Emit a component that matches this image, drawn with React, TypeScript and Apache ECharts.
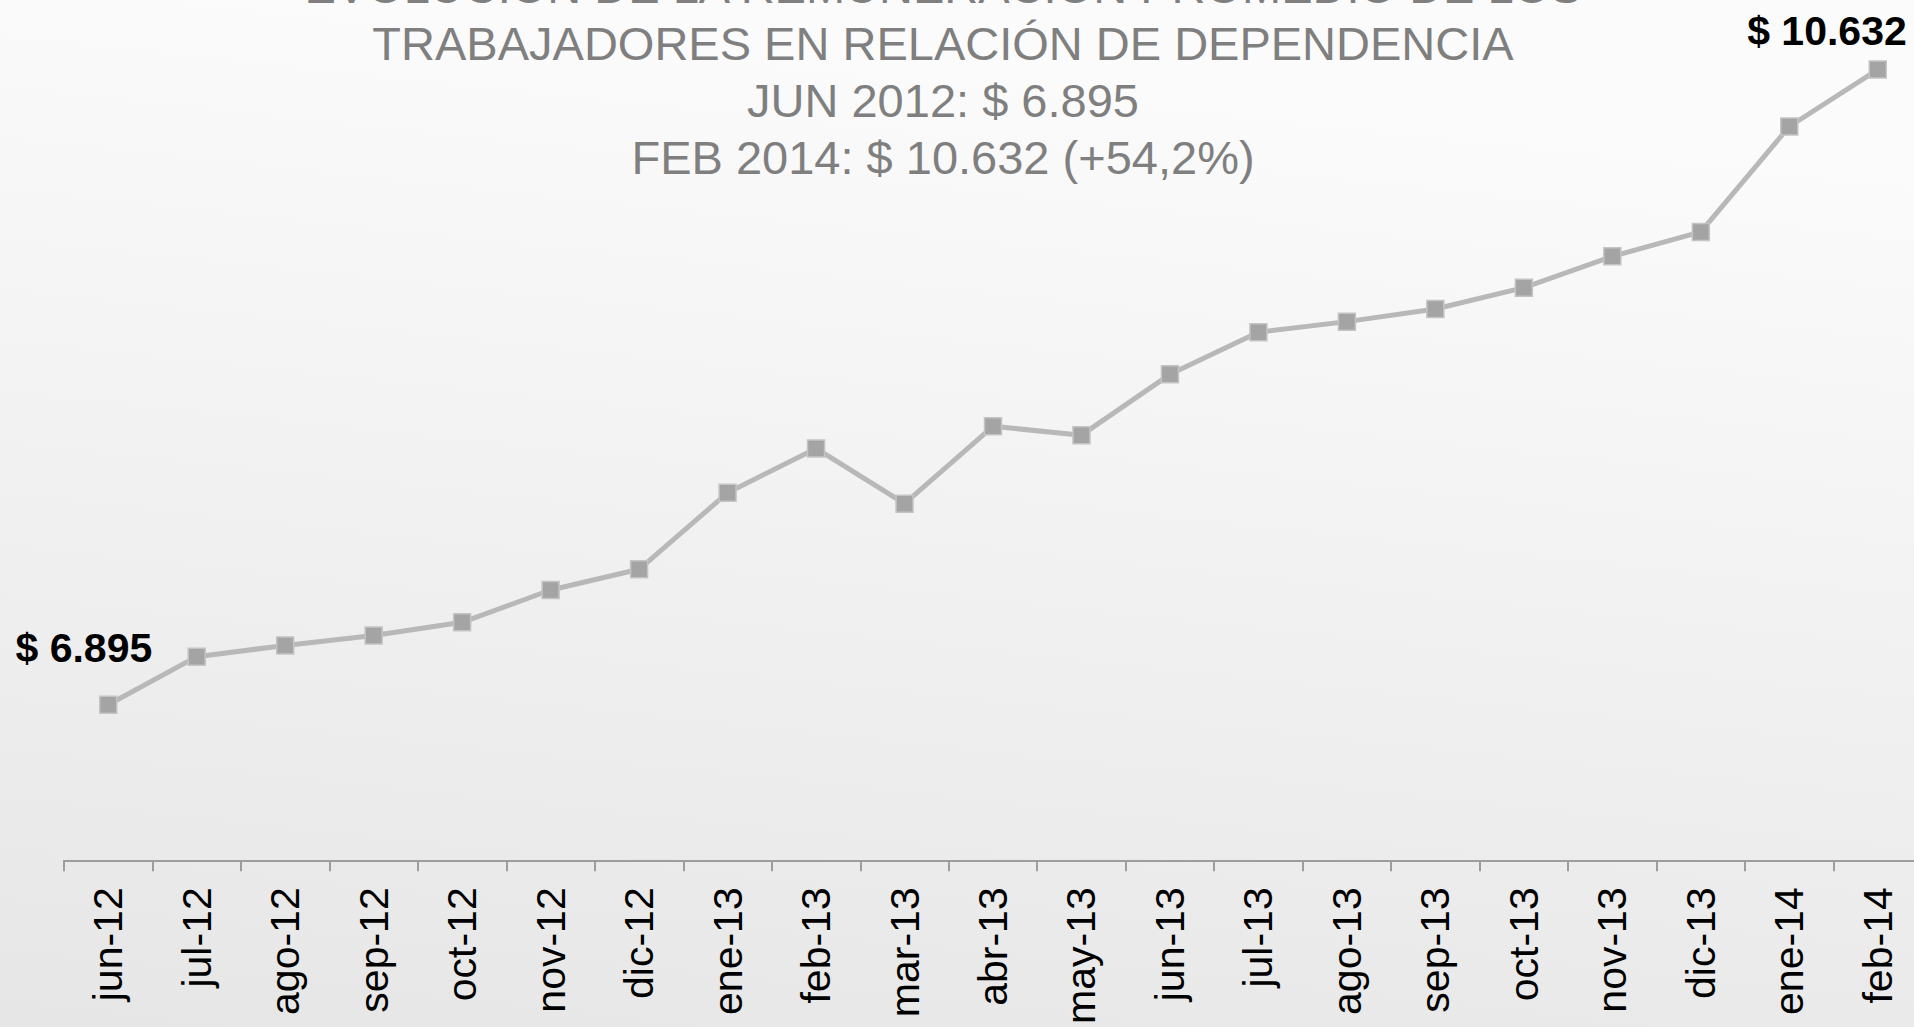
import React, { useEffect, useRef } from "react";
import * as echarts from "echarts";

const categories = [
  "jun-12", "jul-12", "ago-12", "sep-12", "oct-12", "nov-12", "dic-12",
  "ene-13", "feb-13", "mar-13", "abr-13", "may-13", "jun-13", "jul-13",
  "ago-13", "sep-13", "oct-13", "nov-13", "dic-13", "ene-14", "feb-14",
];

const remuneracion = [
  6895, 7178, 7244, 7302, 7380, 7570, 7692,
  8142, 8403, 8078, 8533, 8481, 8839, 9087,
  9149, 9223, 9349, 9533, 9677, 10297, 10632,
];

const titleLines = [
  "EVOLUCIÓN DE LA REMUNERACIÓN PROMEDIO DE LOS",
  "TRABAJADORES EN RELACIÓN DE DEPENDENCIA",
  "JUN 2012: $ 6.895",
  "FEB 2014: $ 10.632 (+54,2%)",
];

const firstLabel = "$ 6.895";
const lastLabel = "$ 10.632";

const FONT = "'Liberation Sans', Arial, Helvetica, sans-serif";

export default function App() {
  const ref = useRef<HTMLDivElement>(null);

  useEffect(() => {
    if (!ref.current) return;
    const chart = echarts.init(ref.current, undefined, { renderer: "svg" });
    const last = remuneracion.length - 1;
    const data = remuneracion.map((v, i) => {
      if (i === 0) {
        return {
          value: v,
          label: {
            show: true,
            formatter: firstLabel,
            position: "top",
            align: "right",
            offset: [44, -22],
          },
        };
      }
      if (i === last) {
        return {
          value: v,
          label: {
            show: true,
            formatter: lastLabel,
            position: "top",
            align: "right",
            offset: [29, -4],
          },
        };
      }
      return v;
    });

    chart.setOption({
      animation: false,
      backgroundColor: new echarts.graphic.LinearGradient(0.2, 0, 0, 1, [
        { offset: 0, color: "#fbfbfb" },
        { offset: 1, color: "#e6e6e6" },
      ]),
      textStyle: { fontFamily: FONT },
      graphic: [
        {
          type: "text",
          x: 943,
          y: -42,
          silent: true,
          style: {
            text: titleLines.join("\n"),
            align: "center",
            verticalAlign: "top",
            fontSize: 47,
            lineHeight: 57,
            fontFamily: FONT,
            fill: "#7f7f7f",
          },
        },
      ],
      grid: { left: 64, right: 0, top: 7, bottom: 157, containLabel: false },
      xAxis: {
        type: "category",
        data: categories,
        boundaryGap: true,
        axisLine: { show: true, lineStyle: { color: "#9d9d9d", width: 2 } },
        axisTick: { show: true, length: 11, lineStyle: { color: "#9d9d9d", width: 2 } },
        axisLabel: {
          rotate: 90,
          margin: 27,
          fontSize: 41,
          color: "#000",
          fontFamily: FONT,
          interval: 0,
        },
        splitLine: { show: false },
      },
      yAxis: {
        type: "value",
        min: 5980,
        max: 11000,
        show: false,
        splitLine: { show: false },
      },
      series: [
        {
          type: "line",
          data,
          symbol: "rect",
          symbolSize: 17,
          lineStyle: { color: "#b8b8b8", width: 5 },
          itemStyle: { color: "#a4a4a4", borderColor: "#c4c4c4", borderWidth: 1.5 },
          label: {
            fontSize: 41,
            fontWeight: "bold",
            color: "#000",
            fontFamily: FONT,
          },
          clip: false,
        },
      ],
    });

    return () => chart.dispose();
  }, []);

  return (
    <div
      style={{
        position: "absolute",
        left: 0,
        top: 0,
        width: 1914,
        height: 1027,
        overflow: "hidden",
      }}
    >
      <div ref={ref} style={{ width: 1922, height: 1027 }} />
    </div>
  );
}
